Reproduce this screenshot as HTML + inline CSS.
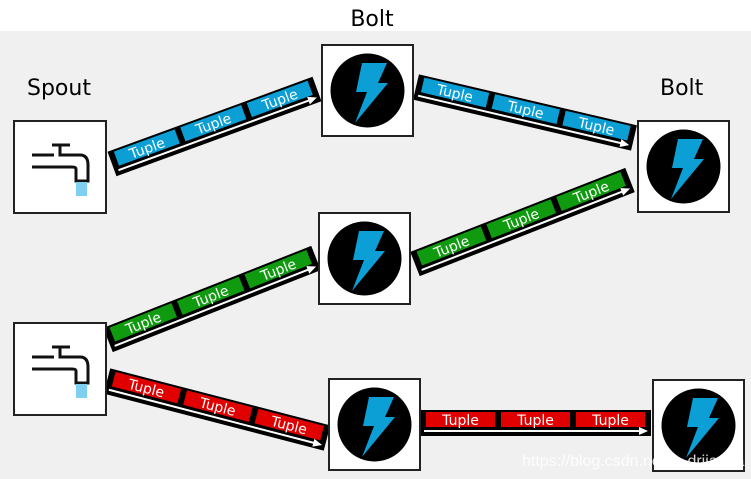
<!DOCTYPE html>
<html><head><meta charset="utf-8"><style>
body{margin:0;width:751px;height:479px;overflow:hidden;background:#fff;font-family:"DejaVu Sans","Liberation Sans",sans-serif}
svg{display:block}
</style></head><body>
<svg id="s" width="751" height="479" viewBox="0 0 751 479">
<rect x="0" y="31" width="751" height="448" fill="#f0f0f0"/>
<text x="372" y="26" font-size="22" text-anchor="middle" fill="#000" font-family="DejaVu Sans, sans-serif">Bolt</text>
<text x="27" y="95" font-size="22" fill="#000" font-family="DejaVu Sans, sans-serif">Spout</text>
<text x="660" y="95" font-size="22" fill="#000" font-family="DejaVu Sans, sans-serif">Bolt</text>
<g id="streams"></g>
<g id="nodes"></g>
<text x="522" y="466" font-size="16" fill="#ffffff" fill-opacity="0.85" font-family="Liberation Sans, sans-serif">https://blog.csdn.net/a_drjiaoda</text>
</svg>
<script>
const NS='http://www.w3.org/2000/svg';
const streamFrom=[[112,164],[416,87],[415,264],[108,340],[107,381],[420,423]];
const streamTo=[[317,89],[634,138],[630,180],[316,258],[327,438],[651,423]];
const streamColor=['#0b9fd6','#0b9fd6','#0f9a0f','#0f9a0f','#e00000','#e00000'];
const spouts=[[14,121],[14,323]];
const bolts=[[322,45],[638,121],[319,213],[329,379],[653,380]];
function el(t,a,p){const e=document.createElementNS(NS,t);for(const k in a)e.setAttribute(k,a[k]);p.appendChild(e);return e;}
const sg=document.getElementById('streams');
streamFrom.forEach((f,i)=>{
  const t=streamTo[i];const dx=t[0]-f[0],dy=t[1]-f[1];
  const L=Math.hypot(dx,dy),ang=Math.atan2(dy,dx)*180/Math.PI;
  const g=el('g',{transform:`translate(${f[0]},${f[1]}) rotate(${ang})`},sg);
  
  
  el('rect',{x:0,y:-13,width:L,height:26,fill:'#000'},g);
  const gap=6,w=(L-gap*4)/3;
  for(let k=0;k<3;k++){
    const x=gap+k*(w+gap);
    const r=el('rect',{x:x,y:-11,width:w,height:15,fill:streamColor[i]},g);
    
    
    const tx=el('text',{x:x+w/2,y:2,'font-size':14,'text-anchor':'middle',fill:'#fff'},g);
    tx.textContent='Tuple';
    
    
  }
  el('line',{x1:4,y1:8,x2:L-10,y2:8,stroke:'#fff','stroke-width':2},g);
  el('polygon',{points:`${L-12},4 ${L-3},8 ${L-12},12`,fill:'#fff'},g);
});
const ng=document.getElementById('nodes');
spouts.forEach((p,i)=>{
  const g=el('g',{transform:`translate(${p[0]},${p[1]})`},ng);
  
  
  el('rect',{x:0,y:0,width:92,height:92,fill:'#fff',stroke:'#222','stroke-width':2},g);
  el('path',{d:'M18 34 H40 M46 24 V34 H66 Q74 34 74 44 V60 H62 V48 Q62 46 58 46 H18 M38 24 H56',fill:'none',stroke:'#111','stroke-width':3},g);
  el('rect',{x:62,y:61,width:11,height:14,fill:'#7fd0f0'},g);
});
bolts.forEach((p,i)=>{
  const g=el('g',{transform:`translate(${p[0]},${p[1]})`},ng);
  
  
  el('rect',{x:0,y:0,width:91,height:91,fill:'#fff',stroke:'#222','stroke-width':2},g);
  el('circle',{cx:45.5,cy:45.5,r:37,fill:'#000'},g);
  el('polygon',{points:'40,18 65,18 56,38 66,38 33,78 45,47 34,47',fill:'#0b9fd6'},g);
});
</script>
</body></html>
